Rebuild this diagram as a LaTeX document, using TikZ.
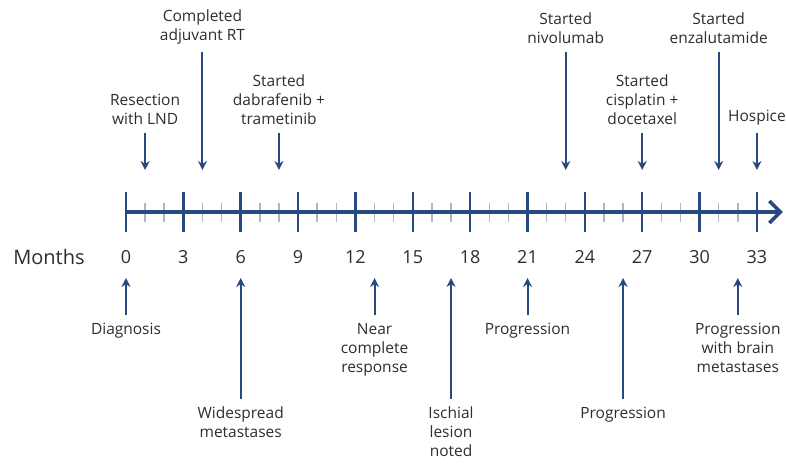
\documentclass[tikz,border=0pt]{standalone}
\usepackage{fontspec}
\setmainfont{Open Sans}
\usepackage{tikz}
\usetikzlibrary{arrows.meta}
\usetikzlibrary{positioning}
\definecolor{lineblue}{RGB}{38,74,128}
\definecolor{tickgray}{RGB}{170,184,204}
\definecolor{textgray}{RGB}{45,45,45}

\begin{document}
\begin{tikzpicture}[
    x=19.12pt, y=-1pt,
    event/.style = {align=center, inner sep=4pt, text=textgray, font=\fontsize{15.5}{19}\selectfont},
    month/.style = {text=textgray, font=\fontsize{18}{20}\selectfont},
    edge/.style  = {draw=lineblue, line width=2pt, -{Stealth[length=9pt, width=9pt]}, shorten <=4pt},
    axis/.style  = {draw=lineblue, line width=3.5pt, -{Straight Barb[length=11pt, width=22pt]}},
    major/.style = {draw=lineblue, line width=2.5pt},
    minor/.style = {draw=tickgray, line width=1.5pt},
  ]
  \useasboundingbox (-6.59,0) rectangle (34.52,464);

  \foreach \m in {0,...,33} {
    \coordinate (a\m) at (\m,170);
    \coordinate (b\m) at (\m,278);
  }
  \foreach \m in {0,3,...,30} {
    \draw[minor] (\m+1,203) -- (\m+1,222);
    \draw[minor] (\m+2,203) -- (\m+2,222);
  }
  \coordinate (axstart) at (0,212);
  \coordinate (axend) at (34.35,212);
  \draw[axis] (axstart) -- (axend);
  \foreach \m in {0,3,...,33} {
    \draw[major] (\m,192) -- (\m,232);
    \node[month] (n\m) at (\m,257) {\m};
  }
  \node[month, font=\fontsize{20}{22}\selectfont] (months) at (-4.03,257) {Months};

  \node[event, above=41pt of a1] (resect) {Resection\\with LND};
  \node[event, above=122pt of a4] (adjrt) {Completed\\adjuvant RT};
  \node[event, above=41pt of a8] (dabra) {Started\\dabrafenib +\\trametinib};
  \node[event, above=122pt of a23] (nivo) {Started\\nivolumab};
  \node[event, above=41pt of a27] (cispl) {Started\\cisplatin +\\docetaxel};
  \node[event, above=122pt of a31] (enza) {Started\\enzalutamide};
  \node[event, above=41pt of a33] (hospice) {Hospice};

  \node[event, below=41pt of b0] (diag) {Diagnosis};
  \node[event, below=125pt of b6] (widesp) {Widespread\\metastases};
  \node[event, below=41pt of b13] (nearcr) {Near\\complete\\response};
  \node[event, below=125pt of b17] (ischial) {Ischial\\lesion\\noted};
  \node[event, below=41pt of b21] (prog) {Progression};
  \node[event, below=125pt of b26] (progb) {Progression};
  \node[event, below=41pt of b32] (progbrain) {Progression\\with brain\\metastases};

  \draw (resect) edge[edge] (a1);
  \draw (adjrt) edge[edge] (a4);
  \draw (dabra) edge[edge] (a8);
  \draw (nivo) edge[edge] (a23);
  \draw (cispl) edge[edge] (a27);
  \draw (enza) edge[edge] (a31);
  \draw (hospice) edge[edge] (a33);
  \draw (diag) edge[edge] (b0);
  \draw (widesp) edge[edge] (b6);
  \draw (nearcr) edge[edge] (b13);
  \draw (ischial) edge[edge] (b17);
  \draw (prog) edge[edge] (b21);
  \draw (progb) edge[edge] (b26);
  \draw (progbrain) edge[edge] (b32);
\end{tikzpicture}
\end{document}
